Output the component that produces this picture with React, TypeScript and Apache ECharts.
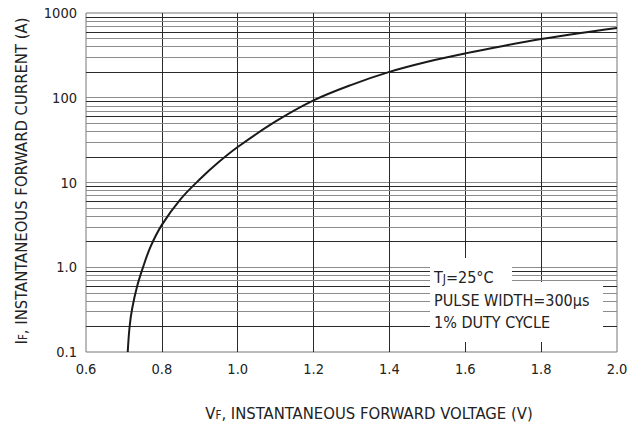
import React, { useEffect, useRef } from "react";
import * as echarts from "echarts";

// Forward voltage (V) and instantaneous forward current (A)
const VF = [0.71, 0.715, 0.722, 0.735, 0.75, 0.77, 0.8, 0.85, 0.9, 0.95, 1.0, 1.1, 1.2, 1.3, 1.4, 1.5, 1.6, 1.7, 1.8, 1.9, 2.0];
const IF = [0.1, 0.2, 0.33, 0.6, 0.99, 1.74, 3.16, 6.4, 10.9, 17.4, 26.2, 52.5, 93, 142, 202, 266, 334, 409, 492, 578, 666];

const Y_LABELS: Record<string, string> = { "0.1": "0.1", "1": "1.0", "10": "10", "100": "100", "1000": "1000" };
const DECADES = [0.1, 1, 10, 100];
const MULTS = [2, 3, 4, 5, 6, 7, 8, 9];
const DARK_MULTS = [2, 6, 9];

const NOTES = ["PULSE WIDTH=300μs", "1% DUTY CYCLE"];

const FONT = '"DejaVu Sans Condensed", "DejaVu Sans", sans-serif';

export default function App() {
  const ref = useRef<HTMLDivElement>(null);
  useEffect(() => {
    if (!ref.current) return;
    const chart = echarts.init(ref.current, undefined, { renderer: "svg" });
    const minorLines = DECADES.flatMap((d) =>
      MULTS.map((m) => ({
        yAxis: Number((d * m).toPrecision(3)),
        lineStyle: { color: DARK_MULTS.includes(m) ? "#2a2a2a" : "#8c8c8c", width: 1, type: "solid" },
      }))
    );
    const smallCaps = { fontSize: 11.5, fontFamily: FONT, fill: "#222", verticalAlign: "bottom" };
    chart.setOption({
      animation: false,
      backgroundColor: "#ffffff",
      textStyle: { fontFamily: FONT },
      grid: {
        left: 86,
        top: 13,
        width: 531,
        height: 339,
        show: true,
        borderColor: "#777",
        borderWidth: 1,
        containLabel: false,
      },
      xAxis: {
        type: "value",
        min: 0.6,
        max: 2.0,
        interval: 0.2,
        axisLine: { show: false },
        axisTick: { show: false },
        axisLabel: {
          margin: 9,
          fontSize: 14.5,
          color: "#222",
          fontFamily: FONT,
          formatter: (v: number) => v.toFixed(1),
        },
        splitLine: { show: true, showMinLine: false, showMaxLine: false, lineStyle: { color: "#2a2a2a", width: 1 } },
      },
      yAxis: {
        type: "log",
        logBase: 10,
        min: 0.1,
        max: 1000,
        axisLine: { show: false },
        axisTick: { show: false },
        axisLabel: {
          margin: 9,
          fontSize: 14.5,
          color: "#222",
          fontFamily: FONT,
          formatter: (v: number) => Y_LABELS[String(Number(v.toPrecision(3)))] ?? String(v),
        },
        splitLine: { show: true, showMinLine: false, showMaxLine: false, lineStyle: { color: "#8c8c8c", width: 1 } },
      },
      series: [
        {
          type: "line",
          data: VF.map((v, i) => [v, IF[i]]),
          smooth: 0.35,
          showSymbol: false,
          symbol: "none",
          lineStyle: { color: "#1a1a1a", width: 2 },
          z: 5,
          markLine: {
            silent: true,
            symbol: ["none", "none"],
            label: { show: false },
            animation: false,
            z: 1,
            data: minorLines,
          },
        },
      ],
      graphic: [
        { type: "rect", z: 100, shape: { x: 430, y: 258, width: 82, height: 24 }, style: { fill: "#fff" } },
        { type: "rect", z: 100, shape: { x: 430, y: 282, width: 173, height: 60 }, style: { fill: "#fff" } },
        {
          type: "text",
          z: 101,
          x: 434,
          y: 277,
          style: {
            text: "T{s|J}=25°C",
            fontSize: 16,
            lineHeight: 15,
            fontFamily: FONT,
            fill: "#222",
            verticalAlign: "middle",
            rich: { s: { ...smallCaps, fontSize: 12 } },
          },
        },
        ...NOTES.map((t, i) => ({
          type: "text",
          z: 101,
          x: 434,
          y: 300 + i * 22.5,
          style: { text: t, fontSize: 16, fontFamily: FONT, fill: "#222", verticalAlign: "middle" },
        })),
        {
          type: "text",
          z: 101,
          x: 369,
          y: 413,
          style: {
            text: "V{s|F}, INSTANTANEOUS FORWARD VOLTAGE (V)",
            fontSize: 16.5,
            lineHeight: 15,
            fontFamily: FONT,
            fill: "#222",
            align: "center",
            verticalAlign: "middle",
            rich: { s: smallCaps },
          },
        },
        {
          type: "text",
          z: 101,
          x: 21,
          y: 181,
          rotation: Math.PI / 2,
          style: {
            text: "I{s|F}, INSTANTANEOUS FORWARD CURRENT (A)",
            fontSize: 16.5,
            lineHeight: 15,
            fontFamily: FONT,
            fill: "#222",
            align: "center",
            verticalAlign: "middle",
            rich: { s: smallCaps },
          },
        },
      ],
    });
    return () => chart.dispose();
  }, []);
  return <div ref={ref} style={{ position: "fixed", left: 0, top: 0, width: 643, height: 427, background: "#fff" }} />;
}
